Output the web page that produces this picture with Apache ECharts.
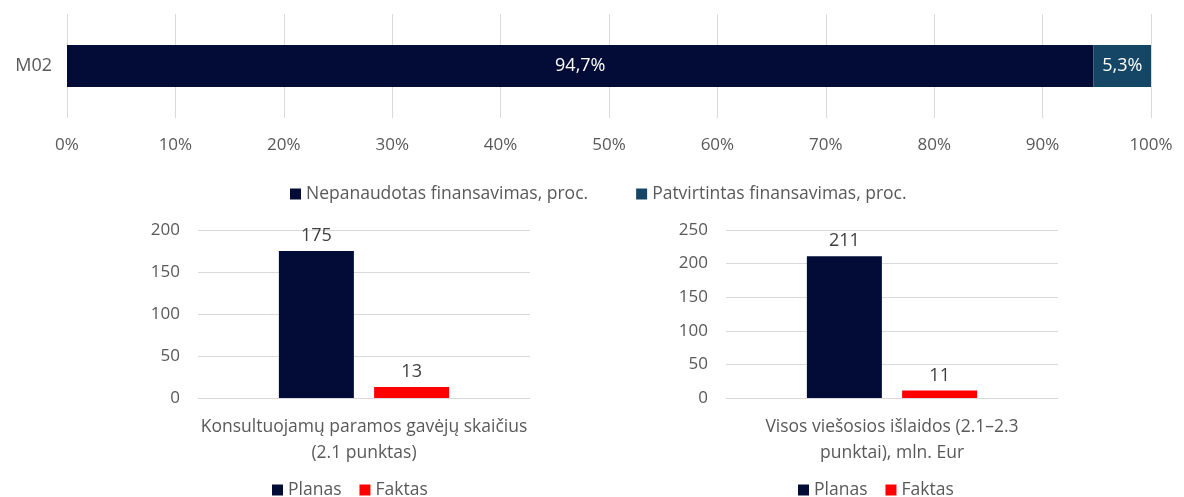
<!DOCTYPE html>
<html>
<head>
<meta charset="utf-8">
<script src="https://cdn.jsdelivr.net/npm/echarts@6/dist/echarts.min.js"></script>
<style>
html,body{margin:0;padding:0;background:#fff;}
#c{width:1184px;height:497px;}
</style>
</head>
<body>
<div id="c"></div>
<script>
// ---- data ----
const topCategories = ['M02'];
const topSeriesNames = ['Nepanaudotas finansavimas, proc.', 'Patvirtintas finansavimas, proc.'];
const unusedShare = [94.7];
const approvedShare = [5.3];

const leftCategories = ['Konsultuojamų paramos gavėjų skaičius\n(2.1 punktas)'];
const leftPlan = [175];
const leftFact = [13];

const rightCategories = ['Visos viešosios išlaidos (2.1–2.3\npunktai), mln. Eur'];
const rightPlan = [211];
const rightFact = [11];

const bottomSeriesNames = ['Planas', 'Faktas'];

// ---- style ----
const FONT = 'Open Sans';
const TXT = '#595959';
const GRID = '#d9d9d9';
const NAVY = '#020c36';
const TEAL = '#164665';
const RED = '#ff0000';

const chart = echarts.init(document.getElementById('c'));

function valueAxis(gridIndex, max) {
  return {
    type: 'value', gridIndex, min: 0, max, interval: 50,
    axisLine: {show: false}, axisTick: {show: false},
    splitLine: {lineStyle: {color: GRID, width: 1}},
    axisLabel: {color: TXT, fontFamily: FONT, fontSize: 17, margin: 18}
  };
}
function catAxis(gridIndex, data) {
  return {
    type: 'category', gridIndex, data,
    axisLine: {show: true, lineStyle: {color: GRID}},
    axisTick: {show: false},
    axisLabel: {color: TXT, fontFamily: FONT, fontSize: 17.5, lineHeight: 26, margin: 16}
  };
}
const valLabel = {show: true, position: 'top', distance: 6, color: '#404040', fontFamily: FONT, fontSize: 18};
const legendText = {color: TXT, fontFamily: FONT, fontSize: 17.5};

chart.setOption({
  animation: false,
  textStyle: {fontFamily: FONT},
  grid: [
    {left: 67, right: 33, top: 14, height: 104},
    {left: 198, width: 332, top: 230, height: 168},
    {left: 726, width: 332, top: 230, height: 168}
  ],
  legend: [
    {data: topSeriesNames, top: 185, left: 290, padding: 0, icon: 'rect', itemWidth: 11, itemHeight: 11, itemGap: 48,
     textStyle: legendText},
    {data: bottomSeriesNames, top: 481, left: 272, padding: 0, icon: 'rect', itemWidth: 11, itemHeight: 11, itemGap: 18,
     textStyle: legendText},
    {data: bottomSeriesNames, top: 481, left: 798, padding: 0, icon: 'rect', itemWidth: 11, itemHeight: 11, itemGap: 18,
     textStyle: legendText}
  ],
  xAxis: [
    {type: 'value', gridIndex: 0, min: 0, max: 100, interval: 10,
     axisLine: {show: false}, axisTick: {show: false},
     splitLine: {lineStyle: {color: GRID}},
     axisLabel: {color: TXT, fontFamily: FONT, fontSize: 17, margin: 19, formatter: v => v + '%'}},
    catAxis(1, leftCategories),
    catAxis(2, rightCategories)
  ],
  yAxis: [
    {type: 'category', gridIndex: 0, data: topCategories,
     axisLine: {show: false}, axisTick: {show: false},
     axisLabel: {color: TXT, fontFamily: FONT, fontSize: 18, margin: 15}},
    valueAxis(1, 200),
    valueAxis(2, 250)
  ],
  series: [
    {name: topSeriesNames[0], type: 'bar', stack: 't', xAxisIndex: 0, yAxisIndex: 0, data: unusedShare,
     barWidth: 42, itemStyle: {color: NAVY},
     label: {show: true, position: 'inside', color: '#fff', fontFamily: FONT, fontSize: 18,
             formatter: p => String(p.value).replace('.', ',') + '%'}},
    {name: topSeriesNames[1], type: 'bar', stack: 't', xAxisIndex: 0, yAxisIndex: 0, data: approvedShare,
     barWidth: 42, itemStyle: {color: TEAL},
     label: {show: true, position: 'inside', color: '#fff', fontFamily: FONT, fontSize: 18,
             formatter: p => String(p.value).replace('.', ',') + '%'}},
    {name: bottomSeriesNames[0], type: 'bar', xAxisIndex: 1, yAxisIndex: 1, data: leftPlan,
     barWidth: 75, barGap: '27%', itemStyle: {color: NAVY}, label: valLabel},
    {name: bottomSeriesNames[1], type: 'bar', xAxisIndex: 1, yAxisIndex: 1, data: leftFact,
     barWidth: 75, barGap: '27%', itemStyle: {color: RED}, label: valLabel},
    {name: bottomSeriesNames[0], type: 'bar', xAxisIndex: 2, yAxisIndex: 2, data: rightPlan,
     barWidth: 75, barGap: '27%', itemStyle: {color: NAVY}, label: valLabel},
    {name: bottomSeriesNames[1], type: 'bar', xAxisIndex: 2, yAxisIndex: 2, data: rightFact,
     barWidth: 75, barGap: '27%', itemStyle: {color: RED}, label: valLabel}
  ]
});
</script>
</body>
</html>
